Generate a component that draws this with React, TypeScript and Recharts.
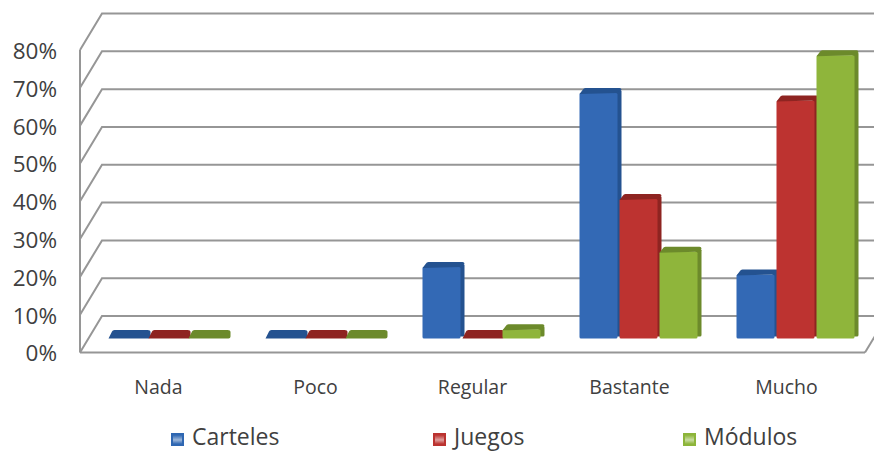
import { Bar, BarChart, CartesianGrid, Legend, XAxis, YAxis } from "recharts";

const categories = ["Nada", "Poco", "Regular", "Bastante", "Mucho"];
const carteles = [0, 0, 18, 64, 16];
const juegos = [0, 0, 0, 36, 62];
const modulos = [0, 0, 1.5, 22, 74];
const percentTicks = [0, 10, 20, 30, 40, 50, 60, 70, 80];

const rows = categories.map((name, i) => ({
  name,
  Carteles: carteles[i],
  Juegos: juegos[i],
  Módulos: modulos[i],
}));

const FONT = "'Open Sans', sans-serif";
const TEXT = "#404040";
const LINE = "#969696";

// wall and floor depth of the fake 3D box
const DEPTH_X = 22;
const DEPTH_Y = 36.5;
// bars stand part way into the floor
const BAR_DX = 9.5;
const BAR_DY = -14;
const CAP = 8.5;

const WallLine = (props: any) => {
  const { x1, x2, y1 } = props;
  const backY = y1 - DEPTH_Y;
  return (
    <g>
      <polyline
        points={`${x1},${y1} ${x1 + DEPTH_X},${backY} 874,${backY}`}
        fill="none"
        stroke={LINE}
        strokeWidth={2}
      />
      {y1 > 340 ? (
        <line x1={x2} y1={y1} x2={x2 + DEPTH_X} y2={backY} stroke={LINE} strokeWidth={2} />
      ) : null}
    </g>
  );
};

const Box = (props: any) => {
  const { x, y, width, height, fill, dark } = props;
  const left = x + BAR_DX;
  const right = left + width;
  const base = y + height + BAR_DY;
  const top = y + BAR_DY - CAP;
  if (height <= 0) {
    // an empty value still shows the lid of the box
    return (
      <path
        d={`M${left},${top + CAP} L${left + 3.5},${top + 1.5} Q${left + 4},${top} ${left + 6},${top} L${right - 1},${top} Q${right + 2},${top} ${right + 2},${top + 2} L${right + 2},${top + CAP - 2} Q${right + 2},${top + CAP} ${right},${top + CAP} Z`}
        fill={dark}
      />
    );
  }
  return (
    <g>
      <rect x={right - 4} y={top + 2} width={6} height={base - top - 4} rx={1.5} fill={dark} />
      <rect x={left} y={top + 5} width={width - 2} height={base - top - 5} rx={1.5} fill={fill} />
      <path
        d={`M${left},${top + 6} L${left + 3.5},${top + 1.5} Q${left + 4},${top} ${left + 6},${top} L${right},${top} Q${right + 2},${top} ${right + 2},${top + 2} L${right - 2},${top + 5} Z`}
        fill={dark}
      />
    </g>
  );
};

const swatches: Record<string, string> = {
  Carteles: "#2f67b2",
  Juegos: "#bb3330",
  Módulos: "#8db53a",
};
const legendWidths = [262, 250, 190];

const LegendRow = ({ payload }: any) => (
  <div style={{ display: "flex", paddingLeft: 171, fontFamily: FONT, fontSize: 23, lineHeight: "22px", color: TEXT }}>
    {(payload || []).map((item: any, i: number) => (
      <div
        key={item.value}
        style={{ width: legendWidths[i], flexShrink: 0, display: "flex", alignItems: "center", height: 22 }}
      >
        <span
          style={{
            width: 13,
            height: 13,
            marginRight: 8,
            position: "relative",
            top: 3,
            boxSizing: "border-box",
            border: `2px solid ${swatches[item.value]}`,
            background: `linear-gradient(180deg, ${swatches[item.value]}, #ffffff88 55%, ${swatches[item.value]})`,
            backgroundColor: swatches[item.value],
          }}
        />
        {item.value}
      </div>
    ))}
  </div>
);

export default function App() {
  return (
    <div style={{ position: "absolute", left: 0, top: 0, background: "#fff" }}>
      <BarChart
        width={874}
        height={452}
        data={rows}
        margin={{ top: 50, right: 9, bottom: 59.5, left: 0 }}
        barCategoryGap={19}
        barGap={0}
      >
        <CartesianGrid vertical={false} horizontal={WallLine} />
        <XAxis
          dataKey="name"
          height={40}
          axisLine={{ stroke: LINE, strokeWidth: 2 }}
          tickLine={false}
          tickMargin={22}
          tick={{ fill: TEXT, fontSize: 19.5, fontFamily: FONT }}
        />
        <YAxis
          width={80}
          domain={[0, 80]}
          ticks={percentTicks}
          tickFormatter={(v) => `${v}%`}
          axisLine={{ stroke: LINE, strokeWidth: 2 }}
          tickLine={false}
          tickMargin={17}
          tick={{ fill: TEXT, fontSize: 22.5, fontFamily: FONT, dy: 1 }}
        />
        <Legend
          layout="horizontal"
          verticalAlign="middle"
          content={LegendRow}
          wrapperStyle={{ top: 425, left: 0, width: 874 }}
        />
        <Bar dataKey="Carteles" fill="#3369b5" isAnimationActive={false} shape={(p: any) => <Box {...p} dark="#245290" />} />
        <Bar dataKey="Juegos" fill="#bd3330" isAnimationActive={false} shape={(p: any) => <Box {...p} dark="#8e2421" />} />
        <Bar dataKey="Módulos" fill="#8fb53b" isAnimationActive={false} shape={(p: any) => <Box {...p} dark="#6c8a2b" />} />
      </BarChart>
    </div>
  );
}
